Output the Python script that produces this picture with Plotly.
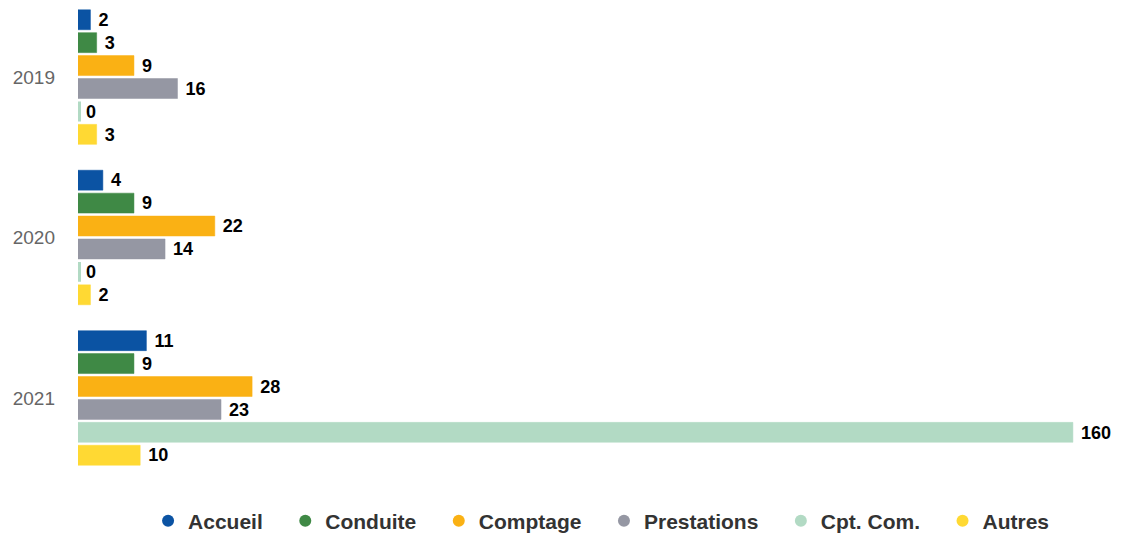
import plotly.graph_objects as go

years = ["2019", "2020", "2021"]
series_names = ["Accueil", "Conduite", "Comptage", "Prestations", "Cpt. Com.", "Autres"]
accueil = [2, 4, 11]
conduite = [3, 9, 9]
comptage = [9, 22, 28]
prestations = [16, 14, 23]
cpt_com = [0, 0, 160]
autres = [3, 2, 10]
colors = ["#0B53A3", "#3F8945", "#FAB114", "#9597A3", "#B2DAC4", "#FFD933"]

values = [accueil, conduite, comptage, prestations, cpt_com, autres]

fig = go.Figure()
for name, vals, col in zip(series_names, values, colors):
    fig.add_trace(go.Bar(
        y=years, x=vals, name=name, orientation="h",
        marker=dict(color=col, line=dict(color=col, width=[6 if v == 0 else 0.5 for v in vals])),
        text=[f" {v}" for v in vals], textposition="outside", cliponaxis=False,
        textfont=dict(family="Liberation Sans, Arial, sans-serif", size=19, color="#000000", weight="bold"),
        showlegend=False,
    ))
for name, col in zip(series_names, colors):
    fig.add_trace(go.Scatter(
        x=[None], y=[None], mode="markers", name=name + "\u00a0\u00a0\u00a0",
        marker=dict(symbol="circle", size=15, color=col), showlegend=True,
    ))

fig.update_layout(
    width=1124, height=538,
    margin=dict(l=78, r=20, t=5, b=68, autoexpand=False),
    paper_bgcolor="white", plot_bgcolor="white",
    barmode="group", bargap=0.143, bargroupgap=0.13,
    font=dict(family="Liberation Sans, Arial, sans-serif"),
    xaxis=dict(range=[0, 165], visible=False, fixedrange=True, automargin=False),
    yaxis=dict(type="category", range=[2.449, -0.449], showgrid=False, zeroline=False,
               showline=False, ticks="", ticklabelstandoff=22, automargin=False,
               tickfont=dict(size=19, color="#666666")),
    legend=dict(orientation="h", x=0.0683, xanchor="left", y=-0.11, yanchor="middle",
                font=dict(size=21, color="#333333", weight="bold"),
                itemsizing="constant", itemwidth=30, tracegroupgap=0),
)

fig.write_html("out.html", config={"displayModeBar": False},
               post_script="document.body.style.margin='0';")
